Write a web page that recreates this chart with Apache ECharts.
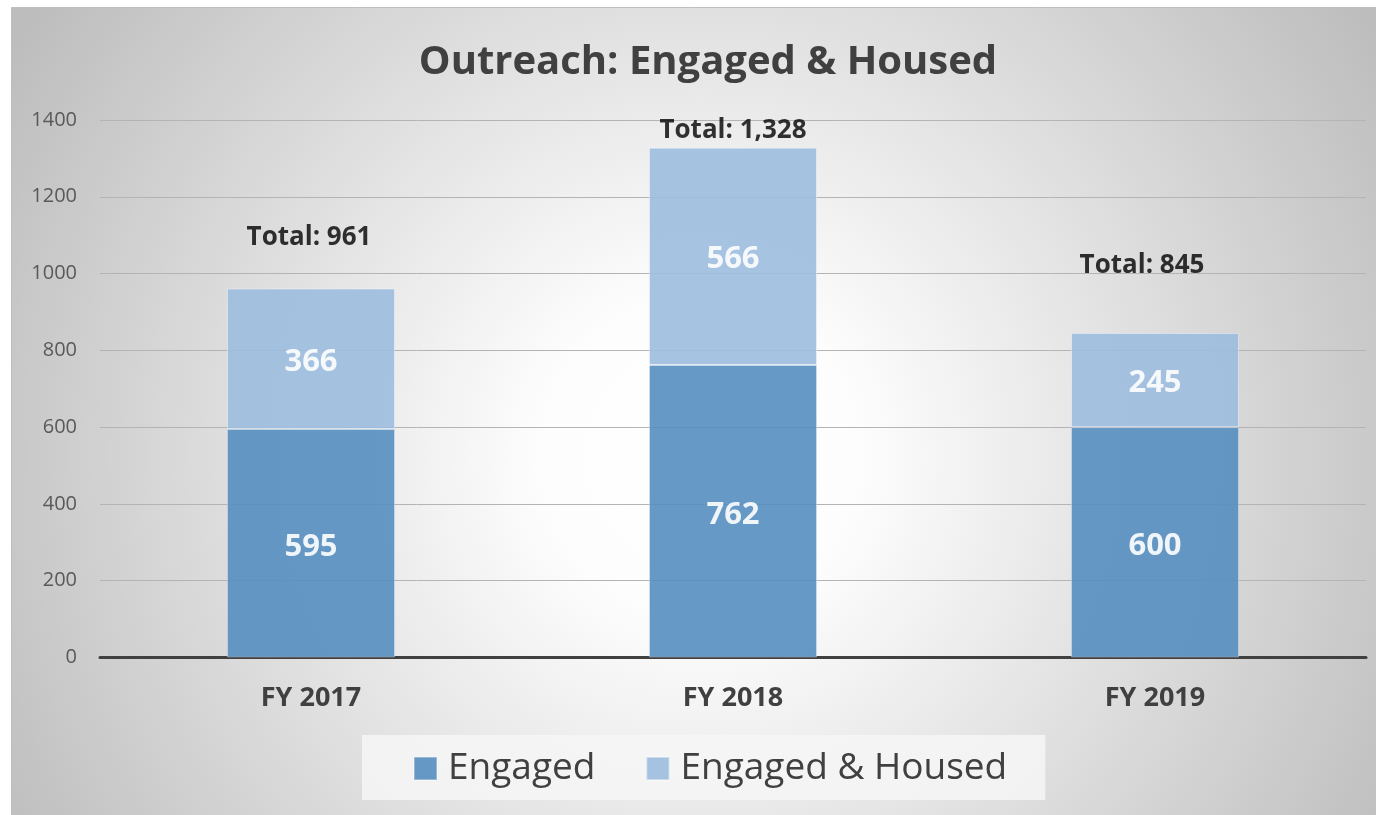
<!DOCTYPE html>
<html>
<head>
<meta charset="utf-8">
<title>Outreach: Engaged & Housed</title>
<script src="https://cdn.jsdelivr.net/npm/echarts@6/dist/echarts.min.js"></script>
<style>
  html, body { margin: 0; padding: 0; background: #ffffff; }
  #chart { width: 1376px; height: 815px; }
</style>
</head>
<body>
<div id="chart"></div>
<script>
var categories = ['FY 2017', 'FY 2018', 'FY 2019'];
var engaged = [595, 762, 600];
var engagedHoused = [366, 566, 245];
var yTicks = { min: 0, max: 1400, interval: 200 };

// totals shown above each stack
var totals = engaged.map(function (v, i) { return v + engagedHoused[i]; });

// the total labels do not sit at the same height in the original
var totalLabelNudge = [
    { distance: 38, offset: [-2, 0] },
    { distance: 4, offset: [0, 0] },
    { distance: 54, offset: [-13, 0] }
];

var chart = echarts.init(document.getElementById('chart'), null, { renderer: 'canvas' });
var font = '"Open Sans", "DejaVu Sans", sans-serif';

var option = {
    animation: false,
    textStyle: { fontFamily: font },
    graphic: [
        {
            type: 'rect',
            z: -10,
            silent: true,
            shape: { x: 11.5, y: 7.5, width: 1376, height: 815 },
            style: {
                fill: new echarts.graphic.RadialGradient(0.5, 0.55, 0.98, [
                    { offset: 0, color: '#ffffff' },
                    { offset: 0.2, color: '#fdfdfd' },
                    { offset: 1, color: '#bdbdbd' }
                ]),
                stroke: '#bfbfbf',
                lineWidth: 1
            }
        }
    ],
    title: {
        text: 'Outreach: Engaged & Housed',
        left: 703,
        textAlign: 'center',
        top: 38,
        textStyle: { fontFamily: font, fontSize: 40, fontWeight: 'bold', color: '#404040' }
    },
    legend: {
        data: ['Engaged', 'Engaged & Housed'],
        left: 362,
        top: 735,
        padding: [15, 38, 13, 51],
        backgroundColor: 'rgba(246,246,246,0.85)',
        icon: 'rect',
        itemWidth: 23,
        itemHeight: 23,
        itemGap: 50,
        textStyle: { fontFamily: font, fontSize: 37, color: '#404040', padding: [0, 0, 0, 6] }
    },
    grid: {
        left: 100,
        right: 10,
        top: 120,
        height: 537.5,
        outerBoundsMode: 'none'
    },
    xAxis: {
        type: 'category',
        data: categories,
        axisTick: { show: false },
        axisLine: { show: true, lineStyle: { color: '#404040', width: 3 } },
        axisLabel: { margin: 27, fontFamily: font, fontSize: 27, fontWeight: 'bold', color: '#404040' }
    },
    yAxis: {
        type: 'value',
        min: yTicks.min,
        max: yTicks.max,
        interval: yTicks.interval,
        axisLine: { show: false },
        axisTick: { show: false },
        axisLabel: {
            margin: 23, fontFamily: font, fontSize: 20, color: '#595959',
            formatter: function (v) { return String(v); }
        },
        splitLine: { lineStyle: { color: '#b4b4b4', width: 1 } }
    },
    series: [
        {
            name: 'Engaged',
            type: 'bar',
            stack: 'total',
            barWidth: 168,
            data: engaged,
            itemStyle: { color: '#558ec0', opacity: 0.9, borderColor: 'rgba(255,255,255,0.35)', borderWidth: 1 },
            label: { show: true, position: 'inside', offset: [0, 4], color: '#ffffff', fontFamily: font, fontSize: 31, fontWeight: 'bold' }
        },
        {
            name: 'Engaged & Housed',
            type: 'bar',
            stack: 'total',
            barWidth: 168,
            data: engagedHoused,
            itemStyle: { color: '#9dbcdf', opacity: 0.9, borderColor: 'rgba(255,255,255,0.45)', borderWidth: 1 },
            label: { show: true, position: 'inside', offset: [0, 3], color: '#ffffff', fontFamily: font, fontSize: 31, fontWeight: 'bold' }
        },
        {
            name: 'Total',
            type: 'scatter',
            symbolSize: 0,
            silent: true,
            data: totals.map(function (t, i) {
                return {
                    value: t,
                    label: { distance: totalLabelNudge[i].distance, offset: totalLabelNudge[i].offset }
                };
            }),
            label: {
                show: true,
                position: 'top',
                color: '#000000',
                fontFamily: font,
                fontSize: 26,
                fontWeight: 'bold',
                formatter: function (p) { return 'Total: ' + p.value.toLocaleString('en-US'); }
            }
        }
    ]
};

chart.setOption(option);
</script>
</body>
</html>
